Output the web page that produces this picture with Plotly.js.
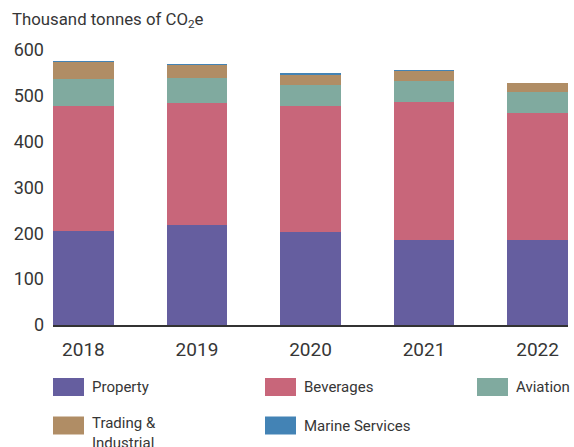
<!DOCTYPE html>
<html>
<head>
<meta charset="utf-8">
<script src="https://cdn.plot.ly/plotly-3.0.1.min.js"></script>
<style>html,body{margin:0;padding:0;background:#fff;}#chart{width:574px;height:447px;}</style>
</head>
<body>
<div id="chart"></div>
<script>
// ---- data ----
var years = ["2018", "2019", "2020", "2021", "2022"];
var property = [206, 218, 203, 185, 185];
var beverages = [272, 266, 275, 301, 277];
var aviation = [59, 55, 46, 46, 46];
var trading = [37, 28, 21, 22, 20];
var marine = [2, 2.5, 4.5, 3, 0];
var seriesNames = ["Property", "Beverages", "Aviation", "Trading &<br>Industrial", "Marine Services"];
var yTickVals = [0, 100, 200, 300, 400, 500, 600];

// ---- styling ----
var colors = ["#655E9F", "#C8667A", "#80AA9F", "#B08D65", "#4383B5"];
var seriesValues = [property, beverages, aviation, trading, marine];
var FONT = "Roboto, 'Liberation Sans', Arial, sans-serif";
var TXT = "#363636";

var W = 574, H = 447;
var M = {l: 53, r: 6, t: 50, b: 122};
var PW = W - M.l - M.r, PH = H - M.t - M.b;
function px2x(px) { return (px - M.l) / PW; }
function py2y(py) { return (H - M.b - py) / PH; }

var traces = seriesValues.map(function (vals, i) {
  return {
    type: "bar",
    x: years,
    y: vals,
    name: seriesNames[i],
    marker: {color: colors[i], line: {width: 0}},
    showlegend: false,
    hoverinfo: "skip"
  };
});

// custom legend (swatches + labels) placed like the reference
var legendPos = [
  {sx: 53, tx: 90, cy: 387},
  {sx: 265, tx: 302, cy: 387},
  {sx: 477, tx: 514, cy: 387},
  {sx: 53, tx: 90, cy: 425.5},
  {sx: 265, tx: 302, cy: 425.5}
];
var LFS = 15;
var shapes = [], annotations = [];
seriesNames.forEach(function (nm, i) {
  var p = legendPos[i];
  shapes.push({
    type: "rect", xref: "paper", yref: "paper",
    x0: px2x(p.sx), x1: px2x(p.sx + 31),
    y0: py2y(p.cy - 9), y1: py2y(p.cy + 9),
    fillcolor: colors[i], line: {width: 0}
  });
  var multi = nm.indexOf("<br>") >= 0;
  annotations.push({
    xref: "paper", yref: "paper",
    x: px2x(p.tx), xanchor: "left",
    y: multi ? py2y(p.cy - 0.65 * 1.3 * LFS - 1) : py2y(p.cy),
    yanchor: multi ? "top" : "middle",
    text: nm, showarrow: false, align: "left",
    font: {family: FONT, size: LFS, color: TXT}
  });
});

var layout = {
  width: W, height: H,
  margin: M,
  paper_bgcolor: "#ffffff",
  plot_bgcolor: "#ffffff",
  barmode: "stack",
  bargap: 0.465,
  showlegend: false,
  hovermode: false,
  title: {
    text: "Thousand tonnes of CO<sub>2</sub>e",
    x: 12 / W, xref: "container", xanchor: "left",
    y: 1 - 19 / H, yref: "container", yanchor: "middle",
    font: {family: FONT, size: 16.8, color: TXT}
  },
  xaxis: {
    type: "category",
    range: [-0.268, 4.268],
    showgrid: false, zeroline: false,
    showline: true, linecolor: "#333333", linewidth: 1.5,
    ticks: "", ticklabelstandoff: 7,
    tickfont: {family: FONT, size: 19, color: TXT},
    fixedrange: true
  },
  yaxis: {
    range: [0, 600],
    tickvals: yTickVals,
    ticktext: yTickVals.map(String),
    showgrid: false, zeroline: false, showline: false,
    ticks: "", ticklabelstandoff: 8,
    tickfont: {family: FONT, size: 18, color: TXT},
    fixedrange: true
  },
  shapes: shapes,
  annotations: annotations
};

Plotly.newPlot("chart", traces, layout, {displayModeBar: false, staticPlot: true});
</script>
</body>
</html>
